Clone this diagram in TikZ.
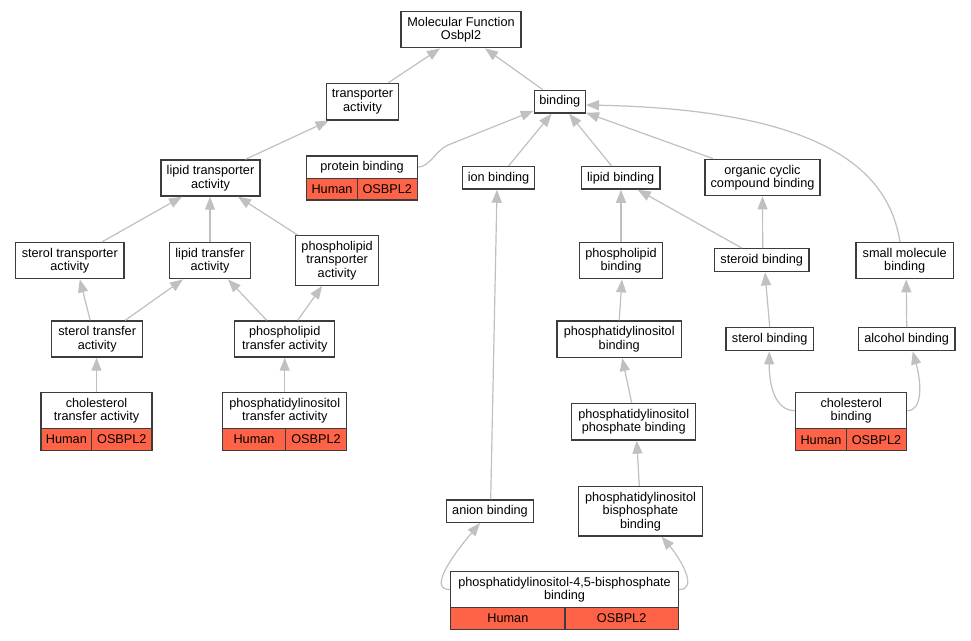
\documentclass[tikz,border=0pt]{standalone}
\usepackage{fontspec}
\setmainfont{Liberation Sans}
\usetikzlibrary{arrows.meta}
\definecolor{edgec}{RGB}{192,192,192}
\definecolor{bordc}{RGB}{60,60,60}
\definecolor{tomatoc}{RGB}{255,99,71}
\newcommand\gofont{\fontsize{12.7pt}{13.5pt}\selectfont}
\tikzset{
  box/.style={draw=bordc, line width=1.4pt, fill=white, inner sep=0pt, align=center, font=\gofont},
  cell/.style={box, fill=tomatoc},
  edge/.style={draw=edgec, line width=1.2pt, -{Triangle[length=13pt,width=10pt]}},
}
\begin{document}
\begin{tikzpicture}[x=1pt,y=-1pt]
\fill[white] (0,0) rectangle (971,640);
\useasboundingbox (0,0) rectangle (971,640);

% nodes
\node[box, minimum width=120pt, minimum height=36pt] (mf) at (461,29.7) {Molecular Function\\Osbpl2};
\node[box, minimum width=72.4pt, minimum height=36.7pt] (trans) at (362.5,101.7) {transporter\\activity};
\node[box, minimum width=51pt, minimum height=22.7pt] (bind) at (559.8,101.7) {binding};
\node[box, minimum width=99pt, minimum height=36pt] (ltrans) at (210.5,178) {lipid transporter\\activity};

\node[box, minimum width=110.6pt, minimum height=22.3pt] (pbh) at (362,167.15) {protein binding};
\node[cell, minimum width=50.6pt, minimum height=21.7pt] (pbc1) at (332,189.15) {Human};
\node[cell, minimum width=60pt, minimum height=21.7pt] (pbc2) at (387.3,189.15) {OSBPL2};

\node[box, minimum width=72.4pt, minimum height=22.3pt] (ion) at (498.5,177.9) {ion binding};
\node[box, minimum width=78.7pt, minimum height=22.3pt] (lipb) at (620.7,177.9) {lipid binding};
\node[box, minimum width=115pt, minimum height=36.4pt] (occ) at (762.5,177.5) {organic cyclic\\compound binding};

\node[box, minimum width=108.3pt, minimum height=36pt] (stt) at (69.8,260.7) {sterol transporter\\activity};
\node[box, minimum width=81.4pt, minimum height=36pt] (ltf) at (210,260.7) {lipid transfer\\activity};
\node[box, minimum width=82.8pt, minimum height=49.6pt] (pltr) at (337.1,260.5) {phospholipid\\transporter\\activity};
\node[box, minimum width=94.7pt, minimum height=23pt] (strd) at (761.7,260.2) {steroid binding};
\node[box, minimum width=83.4pt, minimum height=36pt] (plb) at (621,260.7) {phospholipid\\binding};
\node[box, minimum width=97.3pt, minimum height=36pt] (smb) at (904.7,260.7) {small molecule\\binding};

\node[box, minimum width=91pt, minimum height=36pt] (stf) at (97.2,339) {sterol transfer\\activity};
\node[box, minimum width=100pt, minimum height=36pt] (pltf) at (284.7,339) {phospholipid\\transfer activity};
\node[box, minimum width=124.3pt, minimum height=36.3pt] (pib) at (619.2,339.2) {phosphatidylinositol\\binding};
\node[box, minimum width=87.3pt, minimum height=23pt] (stb) at (769.7,339.2) {sterol binding};
\node[box, minimum width=96.7pt, minimum height=23pt] (alb) at (906.7,339.2) {alcohol binding};

\node[box, minimum width=111pt, minimum height=36pt] (ctfh) at (96.5,410.7) {cholesterol\\transfer activity};
\node[cell, minimum width=50.7pt, minimum height=21.6pt] (ctfc1) at (66.35,439.5) {Human};
\node[cell, minimum width=60.3pt, minimum height=21.6pt] (ctfc2) at (121.85,439.5) {OSBPL2};

\node[box, minimum width=124pt, minimum height=36pt] (pitfh) at (284.7,410.7) {phosphatidylinositol\\transfer activity};
\node[cell, minimum width=62.6pt, minimum height=21.6pt] (pitfc1) at (254,439.5) {Human};
\node[cell, minimum width=61.4pt, minimum height=21.6pt] (pitfc2) at (316,439.5) {OSBPL2};

\node[box, minimum width=111pt, minimum height=36pt] (chbh) at (851.2,410.7) {cholesterol\\binding};
\node[cell, minimum width=50.6pt, minimum height=22pt] (chbc1) at (821,439.7) {Human};
\node[cell, minimum width=60.4pt, minimum height=22pt] (chbc2) at (876.5,439.7) {OSBPL2};

\node[box, minimum width=124pt, minimum height=36.3pt] (pipb) at (633.7,421.8) {phosphatidylinositol\\phosphate binding};
\node[box, minimum width=86.6pt, minimum height=22.3pt] (anb) at (490,511.2) {anion binding};
\node[box, minimum width=124.4pt, minimum height=49.3pt] (pip2b) at (640.5,511.3) {phosphatidylinositol\\bisphosphate\\binding};

\node[box, minimum width=227.6pt, minimum height=35.6pt] (pi45h) at (564.5,589.5) {phosphatidylinositol-4,5-bisphosphate\\binding};
\node[cell, minimum width=114.3pt, minimum height=22pt] (pi45c1) at (507.85,618.3) {Human};
\node[cell, minimum width=113.3pt, minimum height=22pt] (pi45c2) at (621.65,618.3) {OSBPL2};

% edges
\draw[edge] ([xshift=26pt]trans.north) -- ([xshift=-21pt]mf.south);
\draw[edge] ([xshift=-17pt]bind.north) -- ([xshift=24pt]mf.south);
\draw[edge] ([xshift=35pt]ltrans.north) -- ([xshift=3pt]trans.south west);
\draw[edge] (pbh.east) .. controls (430,167) and (436,150) .. (448,145) -- ([yshift=3pt]bind.south west);
\draw[edge] ([xshift=10pt]ion.north) -- ([xshift=-8.3pt]bind.south);
\draw[edge] ([xshift=-9pt]lipb.north) -- ([xshift=9.3pt]bind.south);
\draw[edge] ([xshift=-49.5pt]occ.north) -- ([yshift=1pt]bind.south east);
\draw[edge] ([xshift=-4.7pt]smb.north) .. controls (890,180) and (840,110) .. ([yshift=-3.3pt]bind.east);

\draw[edge] ([xshift=32pt]stt.north) -- ([xshift=-28.5pt]ltrans.south);
\draw[edge] (ltf.north) -- ([xshift=-0.5pt]ltrans.south);
\draw[edge] ([xshift=-39.5pt]pltr.north) -- ([xshift=27.5pt]ltrans.south);

\draw[edge] ([xshift=-7pt]stf.north) -- ([xshift=10pt]stt.south);
\draw[edge] ([xshift=28pt]stf.north) -- ([xshift=-27pt]ltf.south);
\draw[edge] ([xshift=-18pt]pltf.north) -- ([xshift=18pt]ltf.south);
\draw[edge] ([xshift=13pt]pltf.north) -- ([xshift=-15pt]pltr.south);

\draw[edge] (ctfh.north) -- (ctfh.north |- stf.south);
\draw[edge] (pitfh.north) -- (pitfh.north |- pltf.south);

\draw[edge] ([xshift=0.7pt]anb.north) -- ([xshift=-1.5pt]ion.south);
\draw[edge] (plb.north) -- (plb.north |- lipb.south);
\draw[edge] ([xshift=-20pt]strd.north) -- ([xshift=17pt]lipb.south);
\draw[edge] ([xshift=1pt]strd.north) -- (occ.south);
\draw[edge] (stb.north) -- ([xshift=3.3pt]strd.south);
\draw[edge] (alb.north) -- ([xshift=1.5pt]smb.south);
\draw[edge] (pib.north) -- ([xshift=1pt]plb.south);
\draw[edge] ([xshift=-2pt]pipb.north) -- ([xshift=3pt]pib.south);
\draw[edge] ([xshift=-1.2pt]pip2b.north) -- ([xshift=3pt]pipb.south);

\draw[edge] (chbh.west) .. controls (775,410.7) and (769,385) .. ([xshift=-0.4pt]stb.south);
\draw[edge] (chbh.east) .. controls (922,410.7) and (922,385) .. ([xshift=6pt]alb.south);
\draw[edge] (pi45h.west) .. controls (428,590) and (452,556) .. ([xshift=-10pt]anb.south);
\draw[edge] (pi45h.east) .. controls (699,590) and (680,558) .. ([xshift=21pt]pip2b.south);
\end{tikzpicture}
\end{document}
